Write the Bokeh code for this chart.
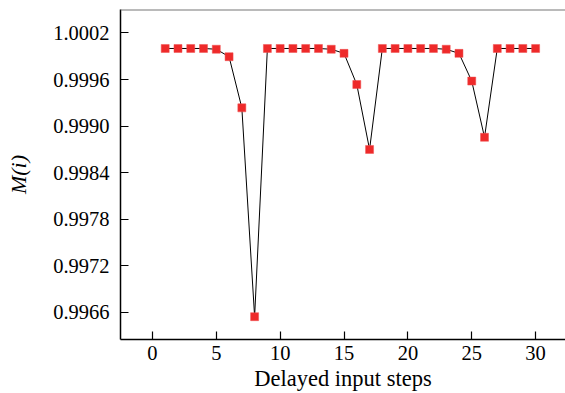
from bokeh.plotting import figure
from bokeh.models import ColumnDataSource, FixedTicker, PrintfTickFormatter, Range1d, Span
from bokeh.embed import file_html
from bokeh.resources import INLINE

steps = list(range(1, 31))
m_values = [1.0000, 1.0000, 1.0000, 1.0000, 0.99999, 0.999894, 0.999235, 0.996545,
            1.0000, 1.0000, 1.0000, 1.0000, 1.0000, 0.99999, 0.999937, 0.999536,
            0.998699, 1.0000, 1.0000, 1.0000, 1.0000, 1.0000, 0.99999, 0.999937,
            0.999580, 0.998856, 1.0000, 1.0000, 1.0000, 1.0000]
x_ticks = [0, 5, 10, 15, 20, 25, 30]
y_ticks = [0.9966, 0.9972, 0.9978, 0.9984, 0.9990, 0.9996, 1.0002]

src = ColumnDataSource(dict(x=steps, y=m_values))

p = figure(width=565, height=393, output_backend="svg", toolbar_location=None,
           x_range=Range1d(-2.5, 32.34), y_range=Range1d(0.996251, 1.000502),
           min_border_left=120, min_border_top=9, min_border_right=0, min_border_bottom=51)
p.outline_line_color = None
p.grid.visible = False
p.background_fill_color = "white"
p.border_fill_color = "white"

p.line("x", "y", source=src, line_color="black", line_width=1)
p.scatter("x", "y", source=src, marker="square", size=8,
          fill_color="#EE2A2A", line_color="#F05050", line_width=0.5)

top = Span(location=1.000502, dimension="width", line_color="#777777", line_width=2)
p.add_layout(top)

font = "'Liberation Serif', 'Times New Roman', serif"
p.xaxis.ticker = FixedTicker(ticks=x_ticks)
p.yaxis.ticker = FixedTicker(ticks=y_ticks)
p.yaxis.formatter = PrintfTickFormatter(format="%.4f")
for ax in (p.xaxis[0], p.yaxis[0]):
    ax.major_tick_in = 8
    ax.major_tick_out = 0
    ax.minor_tick_line_color = None
    ax.axis_line_width = 1.5
    ax.axis_line_color = "black"
    ax.major_tick_line_color = "black"
    ax.major_tick_line_width = 1.2
    ax.major_label_text_font = font
    ax.major_label_text_font_size = "20.5px"
    ax.major_label_text_color = "black"
    ax.axis_label_text_font = font
    ax.axis_label_text_font_size = "22.5px"
    ax.axis_label_text_font_style = "normal"
    ax.axis_label_text_color = "black"

p.xaxis.axis_label = "Delayed input steps"
p.xaxis.major_label_standoff = 6
p.xaxis.axis_label_standoff = 3
p.yaxis.axis_label = "M(i)"
p.yaxis.axis_label_text_font_style = "italic"
p.yaxis.axis_label_text_font_size = "22px"
p.yaxis.major_label_standoff = 11
p.yaxis.axis_label_standoff = 19

open("out.html", "w").write(file_html(p, INLINE))
